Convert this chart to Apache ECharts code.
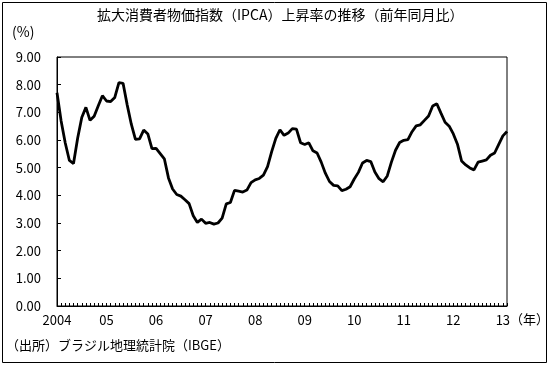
<!DOCTYPE html>
<html><head><meta charset="utf-8">
<script src="https://cdn.jsdelivr.net/npm/echarts@6/dist/echarts.min.js"></script>
<style>html,body{margin:0;padding:0;background:#fff}#c{width:549px;height:366px}</style>
</head><body><div id="c"></div>
<script>
const years = ['2004','05','06','07','08','09','10','11','12','13'];
const v2004 = [7.71,6.69,5.89,5.26,5.15,6.06,6.81,7.18,6.71,6.86,7.24,7.60];
const v2005 = [7.41,7.39,7.54,8.07,8.05,7.27,6.57,6.02,6.04,6.36,6.22,5.69];
const v2006 = [5.70,5.51,5.32,4.63,4.23,4.03,3.97,3.84,3.70,3.26,3.02,3.14];
const v2007 = [2.99,3.02,2.96,3.00,3.18,3.69,3.74,4.18,4.15,4.12,4.19,4.46];
const v2008 = [4.56,4.61,4.73,5.04,5.58,6.06,6.37,6.17,6.25,6.41,6.39,5.90];
const v2009 = [5.84,5.90,5.61,5.53,5.20,4.80,4.50,4.36,4.34,4.17,4.22,4.31];
const v2010 = [4.59,4.83,5.17,5.26,5.22,4.84,4.60,4.49,4.70,5.20,5.63,5.91];
const v2011 = [5.99,6.01,6.30,6.51,6.55,6.71,6.87,7.23,7.31,6.97,6.64,6.50];
const v2012 = [6.22,5.85,5.24,5.10,4.99,4.92,5.20,5.24,5.28,5.45,5.53,5.84];
const v2013 = [6.15,6.31];
const yTicks = ['0.00','1.00','2.00','3.00','4.00','5.00','6.00','7.00','8.00','9.00'];

const values = [].concat(v2004,v2005,v2006,v2007,v2008,v2009,v2010,v2011,v2012,v2013);
const categories = values.map((_, i) => {
  const y = Math.floor(i / 12), m = i % 12;
  return m === 0 ? years[y] : '';
});
const font = '"Noto Sans CJK JP", sans-serif';
const chart = echarts.init(document.getElementById('c'), null, {renderer:'canvas'});
chart.setOption({
  animation: false,
  backgroundColor: '#fff',
  grid: {left: 57, right: 42, top: 57, bottom: 60, show: true, borderColor: '#000', borderWidth: 1, backgroundColor: 'transparent'},
  xAxis: {
    type: 'category', data: categories, boundaryGap: false,
    axisLine: {lineStyle: {color: '#000', width: 1}},
    axisTick: {show: true, inside: true, length: 3, interval: 0, lineStyle: {color: '#000'}},
    axisLabel: {interval: 0, color: '#000', fontFamily: font, fontSize: 13, margin: 8},
    splitLine: {show: false}
  },
  yAxis: {
    type: 'value', min: 0, max: 9, interval: 1,
    axisLine: {show: true, lineStyle: {color: '#000', width: 1}},
    axisTick: {show: true, inside: true, length: 4, lineStyle: {color: '#000'}},
    axisLabel: {color: '#000', fontFamily: font, fontSize: 13, margin: 16,
      formatter: (v) => yTicks[Math.round(v)]},
    splitLine: {show: false}
  },
  series: [{
    type: 'line', data: values, showSymbol: false, symbol: 'none',
    lineStyle: {color: '#000', width: 2.8}, smooth: false
  }],
  graphic: [
    {type: 'rect', shape: {x: 2.5, y: 2.5, width: 544, height: 360}, style: {fill: 'none', stroke: '#000', lineWidth: 1}, z: 100},
    {type: 'text', left: 97, top: 8, style: {text: '拡大消費者物価指数（IPCA）上昇率の推移（前年同月比）', font: '14px ' + font, fill: '#000'}},
    {type: 'text', left: 12, top: 25, style: {text: '(%)', font: '14px ' + font, fill: '#000'}},
    {type: 'text', left: 510, top: 313, style: {text: '（年）', font: '13px ' + font, fill: '#000'}},
    {type: 'text', left: 6, top: 339, style: {text: '（出所）ブラジル地理統計院（IBGE）', font: '13px ' + font, fill: '#000'}}
  ]
});
</script></body></html>
